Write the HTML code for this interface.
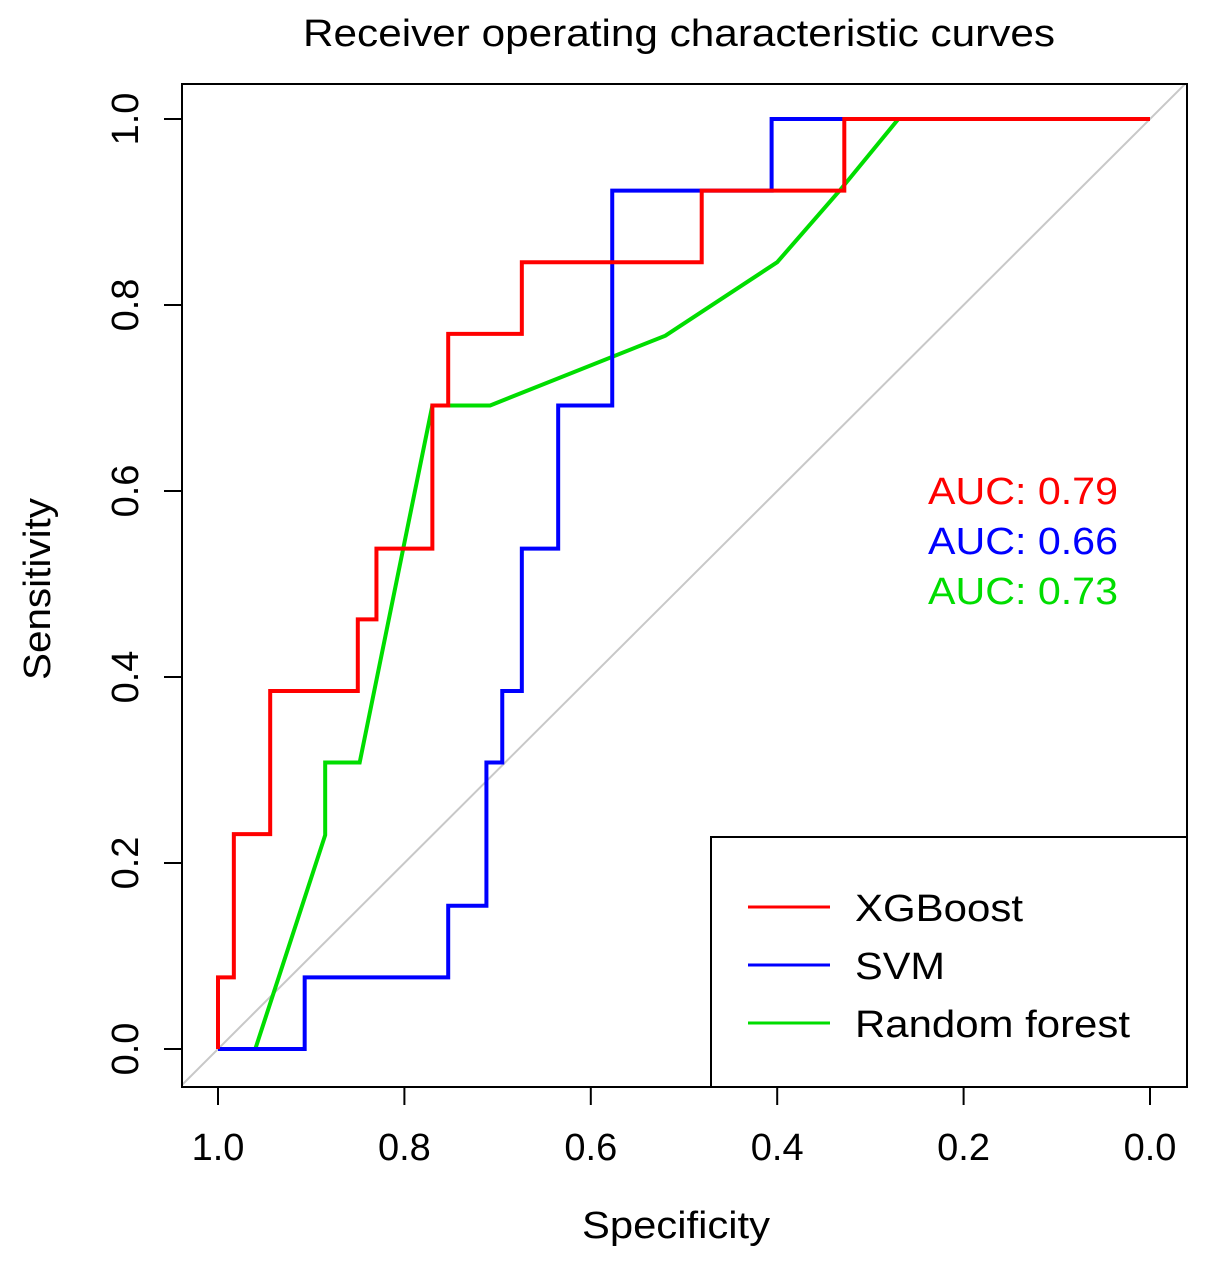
<!DOCTYPE html>
<html><head><meta charset="utf-8"><style>body{margin:0;background:#fff}svg text{font-family:"Liberation Sans",sans-serif}</style></head>
<body>
<svg id="chart" width="1205" height="1263" xmlns="http://www.w3.org/2000/svg">
<defs><clipPath id="pc"><rect x="182" y="84" width="1005" height="1003"/></clipPath></defs>
<text x="303" y="46" font-size="38" textLength="752" lengthAdjust="spacingAndGlyphs">Receiver operating characteristic curves</text>
<g id="axes"></g>
<g id="series" clip-path="url(#pc)"></g>
<rect x="182" y="84" width="1005" height="1003" fill="none" stroke="#000" stroke-width="2"/>
<text x="582" y="1238" font-size="38" textLength="188" lengthAdjust="spacingAndGlyphs">Specificity</text>
<text transform="translate(50,680) rotate(-90)" font-size="38" textLength="182" lengthAdjust="spacingAndGlyphs">Sensitivity</text>
<text x="928" y="504" font-size="38" fill="#ff0000" textLength="190" lengthAdjust="spacingAndGlyphs">AUC: 0.79</text>
<text x="928" y="554" font-size="38" fill="#0000ff" textLength="190" lengthAdjust="spacingAndGlyphs">AUC: 0.66</text>
<text x="928" y="604" font-size="38" fill="#00dd00" textLength="190" lengthAdjust="spacingAndGlyphs">AUC: 0.73</text>
<g>
<rect x="711" y="837" width="476" height="250" fill="#fff" stroke="#000" stroke-width="2"/>
<line x1="748" y1="907" x2="830" y2="907" stroke="#ff0000" stroke-width="3"/>
<text x="855" y="921" font-size="38" textLength="168" lengthAdjust="spacingAndGlyphs">XGBoost</text>
<line x1="748" y1="965" x2="830" y2="965" stroke="#0000ff" stroke-width="3"/>
<text x="855" y="979" font-size="38" textLength="90" lengthAdjust="spacingAndGlyphs">SVM</text>
<line x1="748" y1="1023" x2="830" y2="1023" stroke="#00dd00" stroke-width="3"/>
<text x="855" y="1037" font-size="38" textLength="275" lengthAdjust="spacingAndGlyphs">Random forest</text>
</g>
</svg>
<script>
const ticks=[0,0.2,0.4,0.6,0.8,1.0];
const tickLabels=["0.0","0.2","0.4","0.6","0.8","1.0"];
const xgbSpec=[1,1,0.983,0.983,0.944,0.944,0.85,0.85,0.83,0.83,0.77,0.77,0.753,0.753,0.674,0.674,0.481,0.481,0.328,0.328,0];
const xgbSens=[0,0.077,0.077,0.231,0.231,0.385,0.385,0.462,0.462,0.538,0.538,0.692,0.692,0.769,0.769,0.846,0.846,0.923,0.923,1,1];
const svmSpec=[1,0.907,0.907,0.753,0.753,0.712,0.712,0.695,0.695,0.674,0.674,0.635,0.635,0.577,0.577,0.406,0.406,0];
const svmSens=[0,0,0.077,0.077,0.154,0.154,0.308,0.308,0.385,0.385,0.538,0.538,0.692,0.692,0.923,0.923,1,1];
const rfSpec=[0.96,0.885,0.885,0.848,0.77,0.708,0.52,0.4,0.333,0.27,0];
const rfSens=[0,0.23,0.308,0.308,0.692,0.692,0.767,0.846,0.923,1,1];
const xs=s=>1150-s*932, ys=v=>1049-v*930;
const NS="http://www.w3.org/2000/svg";
const ax=document.getElementById('axes'), se=document.getElementById('series');
function mk(t,a,p){const e=document.createElementNS(NS,t);for(const k in a)e.setAttribute(k,a[k]);p.appendChild(e);return e;}
ticks.forEach((t,i)=>{
 let l=mk('line',{x1:xs(t),x2:xs(t),y1:1087,y2:1105,stroke:'#000','stroke-width':2},ax);
 
 
 let tx=mk('text',{x:xs(t),y:1160,'font-size':38,'text-anchor':'middle'},ax);tx.textContent=tickLabels[i];
 
 
 let l2=mk('line',{x1:164,x2:182,y1:ys(t),y2:ys(t),stroke:'#000','stroke-width':2},ax);
 
 
 let ty=mk('text',{transform:`translate(138,${ys(t)}) rotate(-90)`,'font-size':38,'text-anchor':'middle'},ax);ty.textContent=tickLabels[i];
 
 
});
let d=mk('line',{x1:xs(1.04),y1:ys(-0.04),x2:xs(-0.04),y2:ys(1.04),stroke:'#c8c8c8','stroke-width':2},se);


function line(sp,sn,c,name){const p=mk('polyline',{points:sp.map((s,i)=>xs(s)+','+ys(sn[i])).join(' '),fill:'none',stroke:c,'stroke-width':4},se);
 
 }
line(rfSpec,rfSens,'#00dd00','curve-random-forest');
line(svmSpec,svmSens,'#0000ff','curve-svm');
line(xgbSpec,xgbSens,'#ff0000','curve-xgboost');
</script>
</body></html>
